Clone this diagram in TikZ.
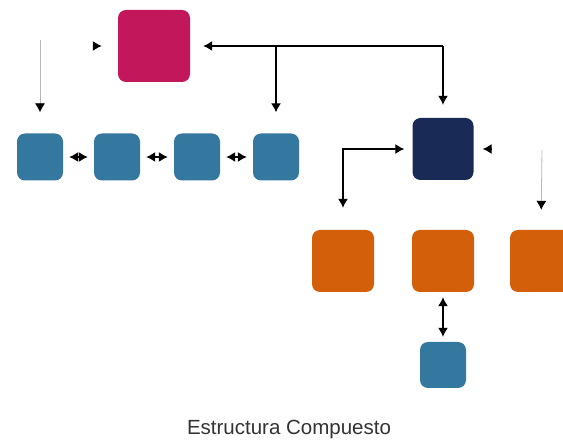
\documentclass[tikz,border=0pt]{standalone}
\usepackage{fontspec}
\setmainfont{Liberation Sans}
\usetikzlibrary{arrows.meta}
\definecolor{rosa}{HTML}{C2185B}
\definecolor{azul}{HTML}{35789F}
\definecolor{marino}{HTML}{1A2A56}
\definecolor{naranja}{HTML}{D35F0A}
\begin{document}
\begin{tikzpicture}[x=1pt,y=-1pt,
    caja/.style={rounded corners=8pt,inner sep=0pt,draw=none},
    flecha/.style={-{Latex[length=9pt,width=10pt]},line width=1.2pt},
    tenue/.style={-{Latex[length=9pt,width=10pt,color=black]},draw=gray!55,line width=0.8pt},
    doble/.style={{Latex[length=9pt,width=10pt]}-{Latex[length=9pt,width=10pt]},line width=1.2pt}]
    \useasboundingbox (0,0) rectangle (563,443);
    % raiz
    \node[caja,fill=rosa,minimum width=72pt,minimum height=72pt] (raiz) at (154,46) {};
    % fila de hojas azules
    \foreach \i/\x in {1/40,2/117,3/197,4/276}
      \node[caja,fill=azul,minimum width=46pt,minimum height=47pt] (h\i) at (\x,157) {};
    % compuesto
    \node[caja,fill=marino,minimum width=61pt,minimum height=62pt] (comp) at (443,149) {};
    \foreach \i/\x in {1/343,2/443,3/541}
      \node[caja,fill=naranja,minimum width=62pt,minimum height=62pt] (n\i) at (\x,261) {};
    \node[caja,fill=azul,minimum width=46pt,minimum height=46pt] (hoja) at (443,365) {};
    % conectores
    \coordinate (esq) at (comp.north |- raiz.east);
    \coordinate (rama) at (h4.north |- raiz.east);
    \draw[flecha,shorten >=13pt] (esq) -- (raiz.east);
    \draw[flecha,shorten >=13pt] (esq) -- (comp.north);
    \draw[flecha,shorten >=21pt] (rama) -- (h4.north);
    \draw[doble,shorten <=22pt,shorten >=8pt] (n1.north) |- (comp.west);
    \draw[doble,shorten <=5pt,shorten >=5pt] (n2.south) -- (hoja.north);
    \foreach \a/\b in {h1/h2,h2/h3,h3/h4}
      \draw[doble,shorten <=6pt,shorten >=6pt] (\a.east) -- (\b.west);
    \coordinate (t1) at (40,40);
    \coordinate (t2) at (542,150);
    \draw[tenue,shorten >=21pt] (t1) -- (h1.north);
    \draw[tenue,shorten >=20pt] (t2) -- (n3.north);
    \coordinate (p1) at (93,46);
    \coordinate (p2) at (492,149);
    \draw[flecha,shorten >=16pt] (p1) -- (raiz.west);
    \draw[flecha,shorten >=9pt] (p2) -- (comp.east);
    % titulo
    \node[text=black!80,font=\fontsize{20.5}{24}\selectfont] (titulo) at (289,429) {Estructura Compuesto};
\end{tikzpicture}
\end{document}
